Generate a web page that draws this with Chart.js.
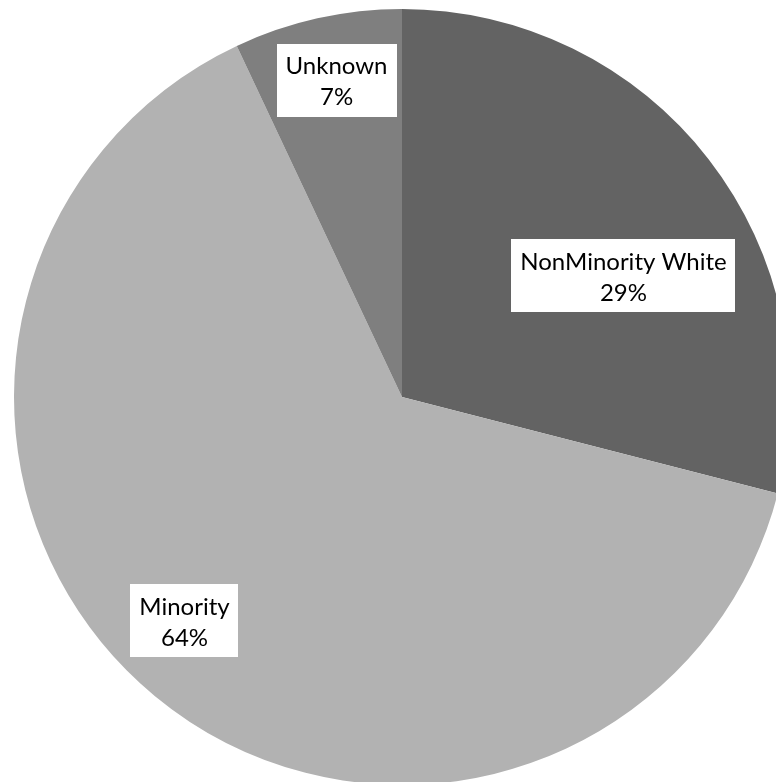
<!DOCTYPE html>
<html>
<head>
<meta charset="utf-8">
<script src="https://cdn.jsdelivr.net/npm/chart.js@4"></script>
<style>
html,body{margin:0;padding:0;background:#fff;overflow:hidden;}
#wrap{position:absolute;left:0;top:0;width:804px;height:794px;}
</style>
</head>
<body>
<div id="wrap"><canvas id="c"></canvas></div>
<script>
const categories = ["NonMinority White", "Minority", "Unknown"];
const values = [29, 64, 7];
const percentLabels = ["29%", "64%", "7%"];

const sliceColors = ["#636363", "#b2b2b2", "#7f7f7f"];
// label placement: angle (deg clockwise from top) and radius fraction
const labelPlacement = [
  {angle: 61.25, frac: 0.651},
  {angle: 224.2, frac: 0.804},
  {angle: -11.67, frac: 0.834}
];

const labelPlugin = {
  id: 'boxLabels',
  afterDatasetsDraw(chart) {
    const ctx = chart.ctx;
    const meta = chart.getDatasetMeta(0);
    const font = '24px Lato, "Open Sans", sans-serif';
    ctx.save();
    ctx.font = font;
    meta.data.forEach((arc, i) => {
      const p = labelPlacement[i];
      const a = (p.angle - 90) * Math.PI / 180;
      const cx = arc.x + Math.cos(a) * arc.outerRadius * p.frac;
      const cy = arc.y + Math.sin(a) * arc.outerRadius * p.frac;
      const l1 = categories[i], l2 = percentLabels[i];
      const w = Math.max(ctx.measureText(l1).width, ctx.measureText(l2).width) + 18;
      const h = 73;
      ctx.fillStyle = '#ffffff';
      ctx.fillRect(Math.round(cx - w / 2), Math.round(cy - h / 2), Math.round(w), h);
      ctx.fillStyle = '#000000';
      ctx.textAlign = 'center';
      ctx.textBaseline = 'alphabetic';
      ctx.fillText(l1, cx, cy - 6);
      ctx.fillText(l2, cx, cy + 25);
    });
    ctx.restore();
  }
};

new Chart(document.getElementById('c'), {
  type: 'pie',
  data: {
    labels: categories,
    datasets: [{
      data: values,
      backgroundColor: sliceColors,
      borderWidth: 0
    }]
  },
  options: {
    responsive: true,
    maintainAspectRatio: false,
    animation: false,
    layout: {padding: {left: 14, right: 14, top: 9, bottom: 9}},
    plugins: {legend: {display: false}, tooltip: {enabled: false}}
  },
  plugins: [labelPlugin]
});
</script>
</body>
</html>
